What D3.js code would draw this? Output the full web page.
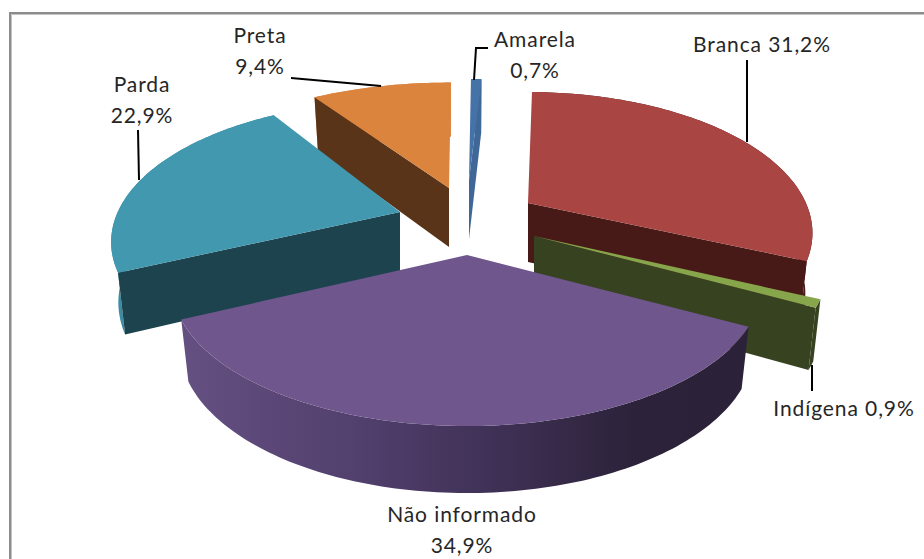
<!DOCTYPE html>
<html><head><meta charset="utf-8">
<style>html,body{margin:0;padding:0;background:#fff}svg{display:block}text{font-family:Lato,sans-serif;fill:#262626;letter-spacing:.9px}</style>
<script src="https://cdn.jsdelivr.net/npm/d3@7/dist/d3.min.js"></script>
</head><body><svg id="c" width="924" height="559"></svg>
<script>
const categories = ["Branca","Indígena","Não informado","Parda","Preta","Amarela"];
const shares = [31.2,0.9,34.9,22.9,9.4,0.7];
const topColors = ["#A94543","#87A64B","#6F568C","#4198AF","#DB843D","#4572A7"];
const sideColors = ["#471A17","#374220","#2E2439","#1D434F","#593418","#3F6898"];
const rimColors = ["#471A17","#374220","url(#rimGrad)","#3B8CA2","#D9823C","#4572A7"];
const apexX = [528,534,467,400,449,469];
const apexY = [203,236,255,212,188,180];
const stretchX = [0.965,1,1,0.98,1,1];
const stretchY = [1,1,1,1,0.95,0.91];
const turnDeg = [-2,0,0,1.5,0,0];
const visibleFace = ["endAngle","endAngle",null,"startAngle","startAngle","endAngle"];
const drawOrder = [4,5,0,1,3,2];
const labelLines = [["Branca 31,2%"],["Indígena 0,9%"],["Não informado","34,9%"],["Parda","22,9%"],["Preta","9,4%"],["Amarela","0,7%"]];
const labelX = [762,844,462,142,260,535];
const labelY = [52,416,522,92,43,47];
const leaders = [
 [[747,60],[747,142]],
 [[812,365],[812,391]],
 [],
 [[138,130],[139,180]],
 [[291,78],[381,86]],
 [[474,80],[476,48],[488,48]]
];

const rotation = 3*Math.PI/180, R = 288, Ry = 134.6, k = 0.213, thick = 59;
const pie = d3.pie().sort(null).value(d=>d).startAngle(rotation).endAngle(rotation+2*Math.PI);
const arcs = pie(shares);
const svg = d3.select("#c");
const line=d3.line();
svg.append("path").attr("d",line([[10,559],[10,13],[924,13]])).attr("fill","none").attr("stroke","#8c8c8c").attr("stroke-width",2);
svg.append("path").attr("d",line([[11.5,559],[11.5,14.5],[924,14.5]])).attr("fill","none").attr("stroke","#c4c4c4").attr("stroke-width",1);

const defs = svg.append("defs");
const g = defs.append("linearGradient").attr("id","rimGrad").attr("gradientUnits","userSpaceOnUse").attr("x1",180).attr("x2",750).attr("y1",0).attr("y2",0);
[[0,"#655082"],[0.3,"#52406E"],[0.55,"#3F3156"],[0.8,"#2C2239"],[1,"#2B2138"]].forEach(s=>g.append("stop").attr("offset",s[0]).attr("stop-color",s[1]));

function proj(i,th,low){
  const t=th+turnDeg[i]*Math.PI/180;
  const u=Math.sin(t), v=-Math.cos(t), s=1/(1-k*v);
  const dx=R*u*s*stretchX[i], dy=Ry*v*s*stretchY[i];
  return low ? [apexX[i]+dx*0.975, apexY[i]+thick+dy*1.047] : [apexX[i]+dx, apexY[i]+dy];
}
function arcPts(i,a0,a1,low){
  const n=Math.max(2,Math.ceil((a1-a0)/0.02));
  return d3.range(n+1).map(j=>proj(i,a0+(a1-a0)*j/n,low));
}
const chart=svg.append("g");
drawOrder.forEach(i=>{
  const a=arcs[i], g=chart.append("g");
  const topArc=arcPts(i,a.startAngle,a.endAngle,false), lowArc=arcPts(i,a.startAngle,a.endAngle,true);
  const apex=[apexX[i],apexY[i]], apexLow=[apexX[i],apexY[i]+thick];
  g.append("path").attr("d",line(topArc.concat(lowArc.slice().reverse()))+"Z").attr("fill",rimColors[i]);
  if(visibleFace[i]){
    const th=a[visibleFace[i]];
    g.append("path").attr("d",line([apex,proj(i,th,false),proj(i,th,true),apexLow])+"Z").attr("fill",sideColors[i]);
  }
  g.append("path").attr("d",line([apex].concat(topArc))+"Z").attr("fill",topColors[i]);
});
const lg=svg.append("g");
leaders.forEach(l=>{ if(l.length) lg.append("path").attr("d",line(l)).attr("fill","none").attr("stroke","#000").attr("stroke-width",2); });
categories.forEach((c,i)=>{
  const t=lg.append("text").attr("text-anchor","middle").attr("font-size",21);
  labelLines[i].forEach((s,j)=>t.append("tspan").attr("x",labelX[i]).attr("y",labelY[i]+j*31).text(s));
});
</script></body></html>
